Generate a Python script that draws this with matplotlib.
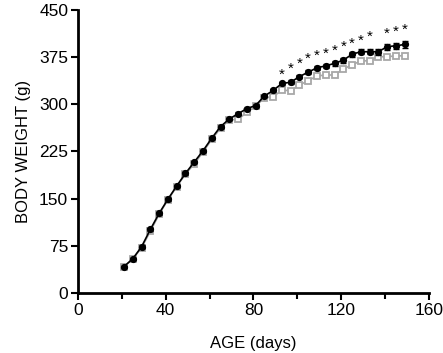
import matplotlib
matplotlib.use("Agg")
import matplotlib.pyplot as plt
from matplotlib.ticker import MultipleLocator

plt.rcParams['font.family'] = ['Liberation Sans', 'DejaVu Sans']

days = [21, 25, 29, 33, 37, 41, 45, 49, 53, 57, 61, 65, 69, 73, 77, 81, 85, 89,
        93, 97, 101, 105, 109, 113, 117, 121, 125, 129, 133, 137, 141, 145, 149]
black = [42, 54.5, 73.5, 101, 126.5, 149, 170, 190, 208, 226, 246, 264.5, 276.5,
         285, 293, 298, 313, 322, 333, 335, 344, 351, 358, 361, 365, 370, 379.5,
         383.5, 383.5, 383.5, 391.5, 393, 395]
black_err = [1.5, 1.5, 2, 2, 2, 2, 2, 2, 2, 2, 2, 2, 2, 2, 2, 2, 2, 2, 3, 3, 3,
             3, 3, 3, 4, 4, 4, 4, 4, 5, 5, 5, 5]
gray = [42, 54, 72, 98, 125, 148, 169, 189, 205, 224, 244, 262, 275, 276, 287,
        297, 310, 312, 322.5, 321.5, 330.5, 337.5, 345, 346.5, 346.5, 356, 362.5,
        369, 369, 375.5, 375.5, 377, 377]
star_days = [93, 97, 101, 105, 109, 113, 117, 121, 125, 129, 133, 141, 145, 149]
star_y = [350, 358, 367, 374.5, 380, 383, 388, 394, 398.5, 403.5, 409, 414.5, 417, 420]

fig = plt.figure(figsize=(4.43, 3.53), dpi=100)
ax = fig.add_axes([0.176, 0.170, 0.792, 0.802])

ax.plot(days, gray, color='#a8a8a8', lw=1.2, marker='s', ms=4, mfc='white',
        mec='#a8a8a8', mew=1.3, zorder=2)
ax.errorbar(days, black, yerr=black_err, color='black', lw=1.2, marker='o', ms=4.2,
            mfc='black', mec='black', capsize=2, elinewidth=1, zorder=3)
for d, s in zip(star_days, star_y):
    ax.text(d, s, '*', ha='center', va='center_baseline', fontsize=11, color='black')

ax.set_xlim(0, 160)
ax.set_ylim(0, 450)
ax.xaxis.set_major_locator(MultipleLocator(40))
ax.xaxis.set_minor_locator(MultipleLocator(20))
ax.yaxis.set_major_locator(MultipleLocator(75))
for s in ['top', 'right']:
    ax.spines[s].set_visible(False)
for s in ['left', 'bottom']:
    ax.spines[s].set_linewidth(2)
ax.tick_params(which='major', length=5, width=1.5, labelsize=12.5, direction='out', pad=2)
ax.tick_params(which='minor', length=4, width=1.5)
ax.set_xlabel('AGE (days)', fontsize=12, labelpad=13)
ax.set_ylabel('BODY WEIGHT (g)', fontsize=12, labelpad=6)

fig.savefig('out.png', dpi=100)
